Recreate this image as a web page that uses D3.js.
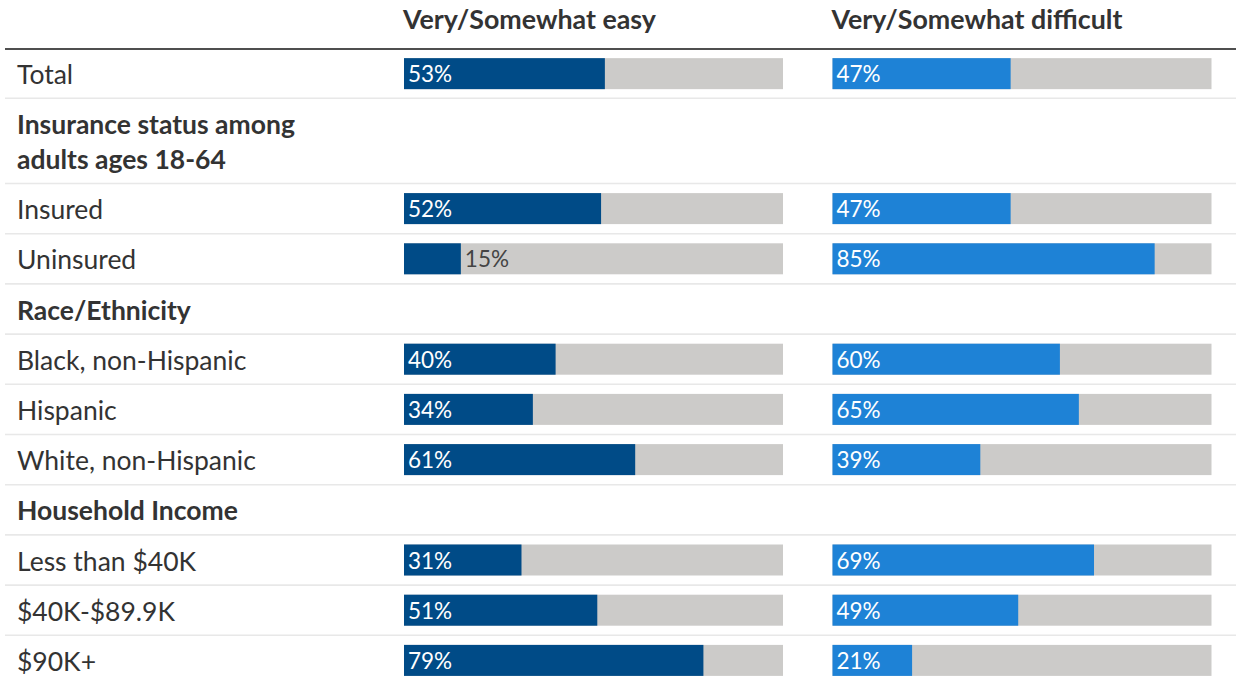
<!DOCTYPE html>
<html>
<head>
<meta charset="utf-8">
<script src="https://cdn.jsdelivr.net/npm/d3@7"></script>
<style>
  html, body { margin: 0; padding: 0; background: #fff; }
  svg { display: block; font-family: Lato, "Noto Sans", sans-serif; }
</style>
</head>
<body>
<svg id="chart" width="1236" height="676"></svg>
<script>
// Row labels (group headings may wrap onto two lines with "\n")
const rowLabels = [
  "Total",
  "Insurance status among\nadults ages 18-64",
  "Insured",
  "Uninsured",
  "Race/Ethnicity",
  "Black, non-Hispanic",
  "Hispanic",
  "White, non-Hispanic",
  "Household Income",
  "Less than $40K",
  "$40K-$89.9K",
  "$90K+"
];
// "group" rows are headings without bars
const rowKinds = ["data", "group", "data", "data", "group", "data", "data", "data", "group", "data", "data", "data"];

const columnTitles = ["Very/Somewhat easy", "Very/Somewhat difficult"];
const easyValues      = [53, null, 52, 15, null, 40, 34, 61, null, 31, 51, 79];
const difficultValues = [47, null, 47, 85, null, 60, 65, 39, null, 69, 49, 21];
const columnColors = ["#004b87", "#1e82d6"];

const svg = d3.select("#chart");
const W = 1236;

const ruleY = 49;
const rowH = 50.2;
const lineStep = 35;
const barH = 31;
const colStarts = [404, 832.5];
const barW = 379;

const x = d3.scaleLinear().domain([0, 100]).range([0, barW]);

// Row geometry built cumulatively from line counts
const rows = [];
let yTop = ruleY;
rowLabels.forEach((label, i) => {
  const lines = label.split("\n");
  const h = (i === 0 ? rowH - 0.9 : rowH) + (lines.length - 1) * lineStep;
  rows.push({ label, lines, kind: rowKinds[i], top: yTop, h, values: [easyValues[i], difficultValues[i]] });
  yTop += h;
});

// Column headings
svg.selectAll("text.col-title")
  .data(columnTitles)
  .join("text")
  .attr("class", "col-title")
  .attr("x", (d, i) => colStarts[i] - 1)
  .attr("y", 28.5)
  .attr("fill", "#333")
  .attr("font-size", 26.8)
  .attr("font-weight", 700)
  .text(d => d);

// Row separators
svg.selectAll("line.sep")
  .data(rows.slice(0, -1))
  .join("line")
  .attr("class", "sep")
  .attr("x1", 5).attr("x2", W)
  .attr("y1", d => d.top + d.h).attr("y2", d => d.top + d.h)
  .attr("stroke", "#e8e8e8")
  .attr("stroke-width", 1.6);

// Heading rule
svg.append("line")
  .attr("x1", 5).attr("x2", W)
  .attr("y1", ruleY).attr("y2", ruleY)
  .attr("stroke", "#4f4f4f")
  .attr("stroke-width", 2);

// Row labels
const labelG = svg.selectAll("text.row-label")
  .data(rows)
  .join("text")
  .attr("class", "row-label")
  .attr("x", 17)
  .attr("fill", "#333")
  .attr("font-size", 26.5)
  .attr("font-weight", d => d.kind === "group" ? 700 : 400);

labelG.selectAll("tspan")
  .data(d => d.lines.map((l, k) => ({ l, k, row: d })))
  .join("tspan")
  .attr("x", 17)
  .attr("y", d => {
    const r = d.row;
    const firstBaseline = r.top + r.h / 2 + 10.5 - (r.lines.length - 1) * lineStep / 2;
    return firstBaseline + d.k * lineStep;
  })
  .text(d => d.l);

// Bars
const dataRows = rows.filter(r => r.kind === "data");
columnTitles.forEach((title, c) => {
  const g = svg.append("g").attr("transform", `translate(${colStarts[c]},0)`);
  const cells = g.selectAll("g.cell")
    .data(dataRows)
    .join("g")
    .attr("class", "cell")
    .attr("transform", d => `translate(0,${d.top + (d.h - barH) / 2})`);

  cells.append("rect")
    .attr("x", 0).attr("y", 0)
    .attr("width", x(100)).attr("height", barH)
    .attr("fill", "#cccbc9");

  cells.append("rect")
    .attr("x", 0).attr("y", 0)
    .attr("width", d => x(d.values[c])).attr("height", barH)
    .attr("fill", columnColors[c]);

  cells.append("text")
    .attr("x", d => x(d.values[c]) < 70 ? x(d.values[c]) + 4 : 4)
    .attr("y", barH / 2 + 8.7)
    .attr("font-size", 22.5)
    .attr("fill", d => x(d.values[c]) < 70 ? "#444" : "#fff")
    .text(d => d.values[c] + "%");
});
</script>
</body>
</html>
